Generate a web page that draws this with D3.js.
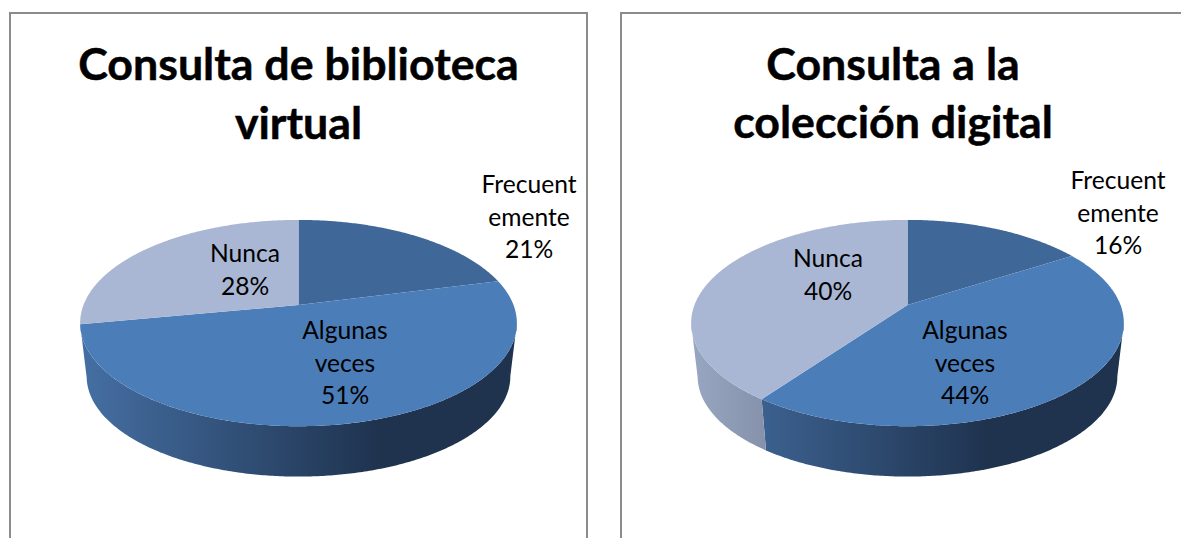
<!DOCTYPE html>
<html lang="es">
<head>
<meta charset="utf-8">
<title>Consulta</title>
<script src="https://cdn.jsdelivr.net/npm/d3@7/dist/d3.min.js"></script>
<style>
  html, body { margin: 0; padding: 0; background: #fff; }
  svg { display: block; }
  text { font-family: Lato, "Open Sans", sans-serif; fill: #000; text-anchor: middle; }
  .title { font-size: 44.7px; font-weight: 700; stroke: #000; stroke-width: 0.5px; }
  .label { font-size: 24.6px; }
</style>
</head>
<body>
<svg id="chart" width="1181" height="538" xmlns="http://www.w3.org/2000/svg"></svg>
<script>
const categories = ["Frecuentemente", "Algunas veces", "Nunca"];
const labelLines = [["Frecuent", "emente"], ["Algunas", "veces"], ["Nunca"]];
const valuesBiblioteca = [21, 51, 28];
const valuesColeccion = [16, 44, 40];
const titleBiblioteca = ["Consulta de biblioteca", "virtual"];
const titleColeccion = ["Consulta a la", "colección digital"];

const topColors = ["#3f6899", "#4b7db9", "#a9b7d4"];
const wallStops = [
  ["#34567f", "#1a2a41"],
  ["#456fa3", "#1f334f"],
  ["#98a7c2", "#515466"]
];

const panels = [
  { title: titleBiblioteca, values: valuesBiblioteca, frame: [10, 587], cx: 298.5, R: 215,
    titleX: 298.5, titleY: [80, 139],
    labels: [[529, 193], [345, 339], [245, 262]] },
  { title: titleColeccion, values: valuesColeccion, frame: [621, 1200], cx: 907.5, R: 213,
    titleX: 893, titleY: [80, 138],
    labels: [[1118, 189], [965, 339], [828, 267]] }
];

const apexY = 305, H = 100, k = 0.175, bottomScale = 0.97, bottomDrop = 54;
const wallFrom = 1.745, wallTo = 4.53;   // silhouette angles of the visible front wall
const lineStep = 32.5;

const svg = d3.select("#chart");
const defs = svg.append("defs");
const pie = d3.pie().sort(null).value(d => d).startAngle(0).endAngle(2 * Math.PI);

panels.forEach((p, pi) => {
  const g = svg.append("g");

  // Chart frame (open at the bottom of the picture)
  g.append("path")
    .attr("d", d3.line()([[p.frame[0], 538], [p.frame[0], 13], [p.frame[1], 13], [p.frame[1], 538]]))
    .attr("fill", "none").attr("stroke", "#8c8c8c").attr("stroke-width", 2);

  // Title
  p.title.forEach((t, i) => {
    g.append("text").attr("class", "title").attr("x", p.titleX).attr("y", p.titleY[i]).text(t);
  });

  // Perspective projection of the pie disc
  const project = (a, scale = 1, drop = 0) => {
    const u = Math.sin(a), v = Math.cos(a), w = 1 + k * v;
    return [p.cx + scale * p.R * u / w, apexY + drop - scale * H * v / w];
  };
  const arcPts = (a0, a1, scale, drop) => {
    const n = Math.max(2, Math.ceil((a1 - a0) / 0.01));
    return d3.range(n + 1).map(i => project(a0 + (a1 - a0) * i / n, scale, drop));
  };
  const line = d3.line();
  const arcs = pie(p.values);

  // Gradients for the walls
  arcs.forEach((d, i) => {
    const grad = defs.append("linearGradient")
      .attr("id", `wall-${pi}-${i}`)
      .attr("gradientUnits", "userSpaceOnUse")
      .attr("x1", p.cx - 218).attr("x2", p.cx + 80)
      .attr("y1", 0).attr("y2", 0);
    grad.append("stop").attr("offset", 0).attr("stop-color", wallStops[i][0]);
    grad.append("stop").attr("offset", 1).attr("stop-color", wallStops[i][1]);
  });

  // Visible side walls
  arcs.forEach((d, i) => {
    const a0 = Math.max(d.startAngle, wallFrom);
    const a1 = Math.min(d.endAngle, wallTo);
    if (a1 <= a0) return;
    const pts = arcPts(a0, a1, 1, 0).concat(arcPts(a0, a1, bottomScale, bottomDrop).reverse());
    g.append("path")
      .attr("d", line(pts) + "Z")
      .attr("fill", `url(#wall-${pi}-${i})`);
  });

  // Top faces
  arcs.forEach((d, i) => {
    const pts = [[p.cx, apexY]].concat(arcPts(d.startAngle, d.endAngle, 1, 0));
    g.append("path")
      .attr("d", line(pts) + "Z")
      .attr("fill", topColors[i]);
  });

  // Data labels
  arcs.forEach((d, i) => {
    const [lx, ly] = p.labels[i];
    const lines = labelLines[i].concat([d.data + "%"]);
    lines.forEach((t, j) => {
      g.append("text").attr("class", "label")
        .attr("x", lx).attr("y", ly + j * lineStep).text(t);
    });
  });
});
</script>
</body>
</html>
